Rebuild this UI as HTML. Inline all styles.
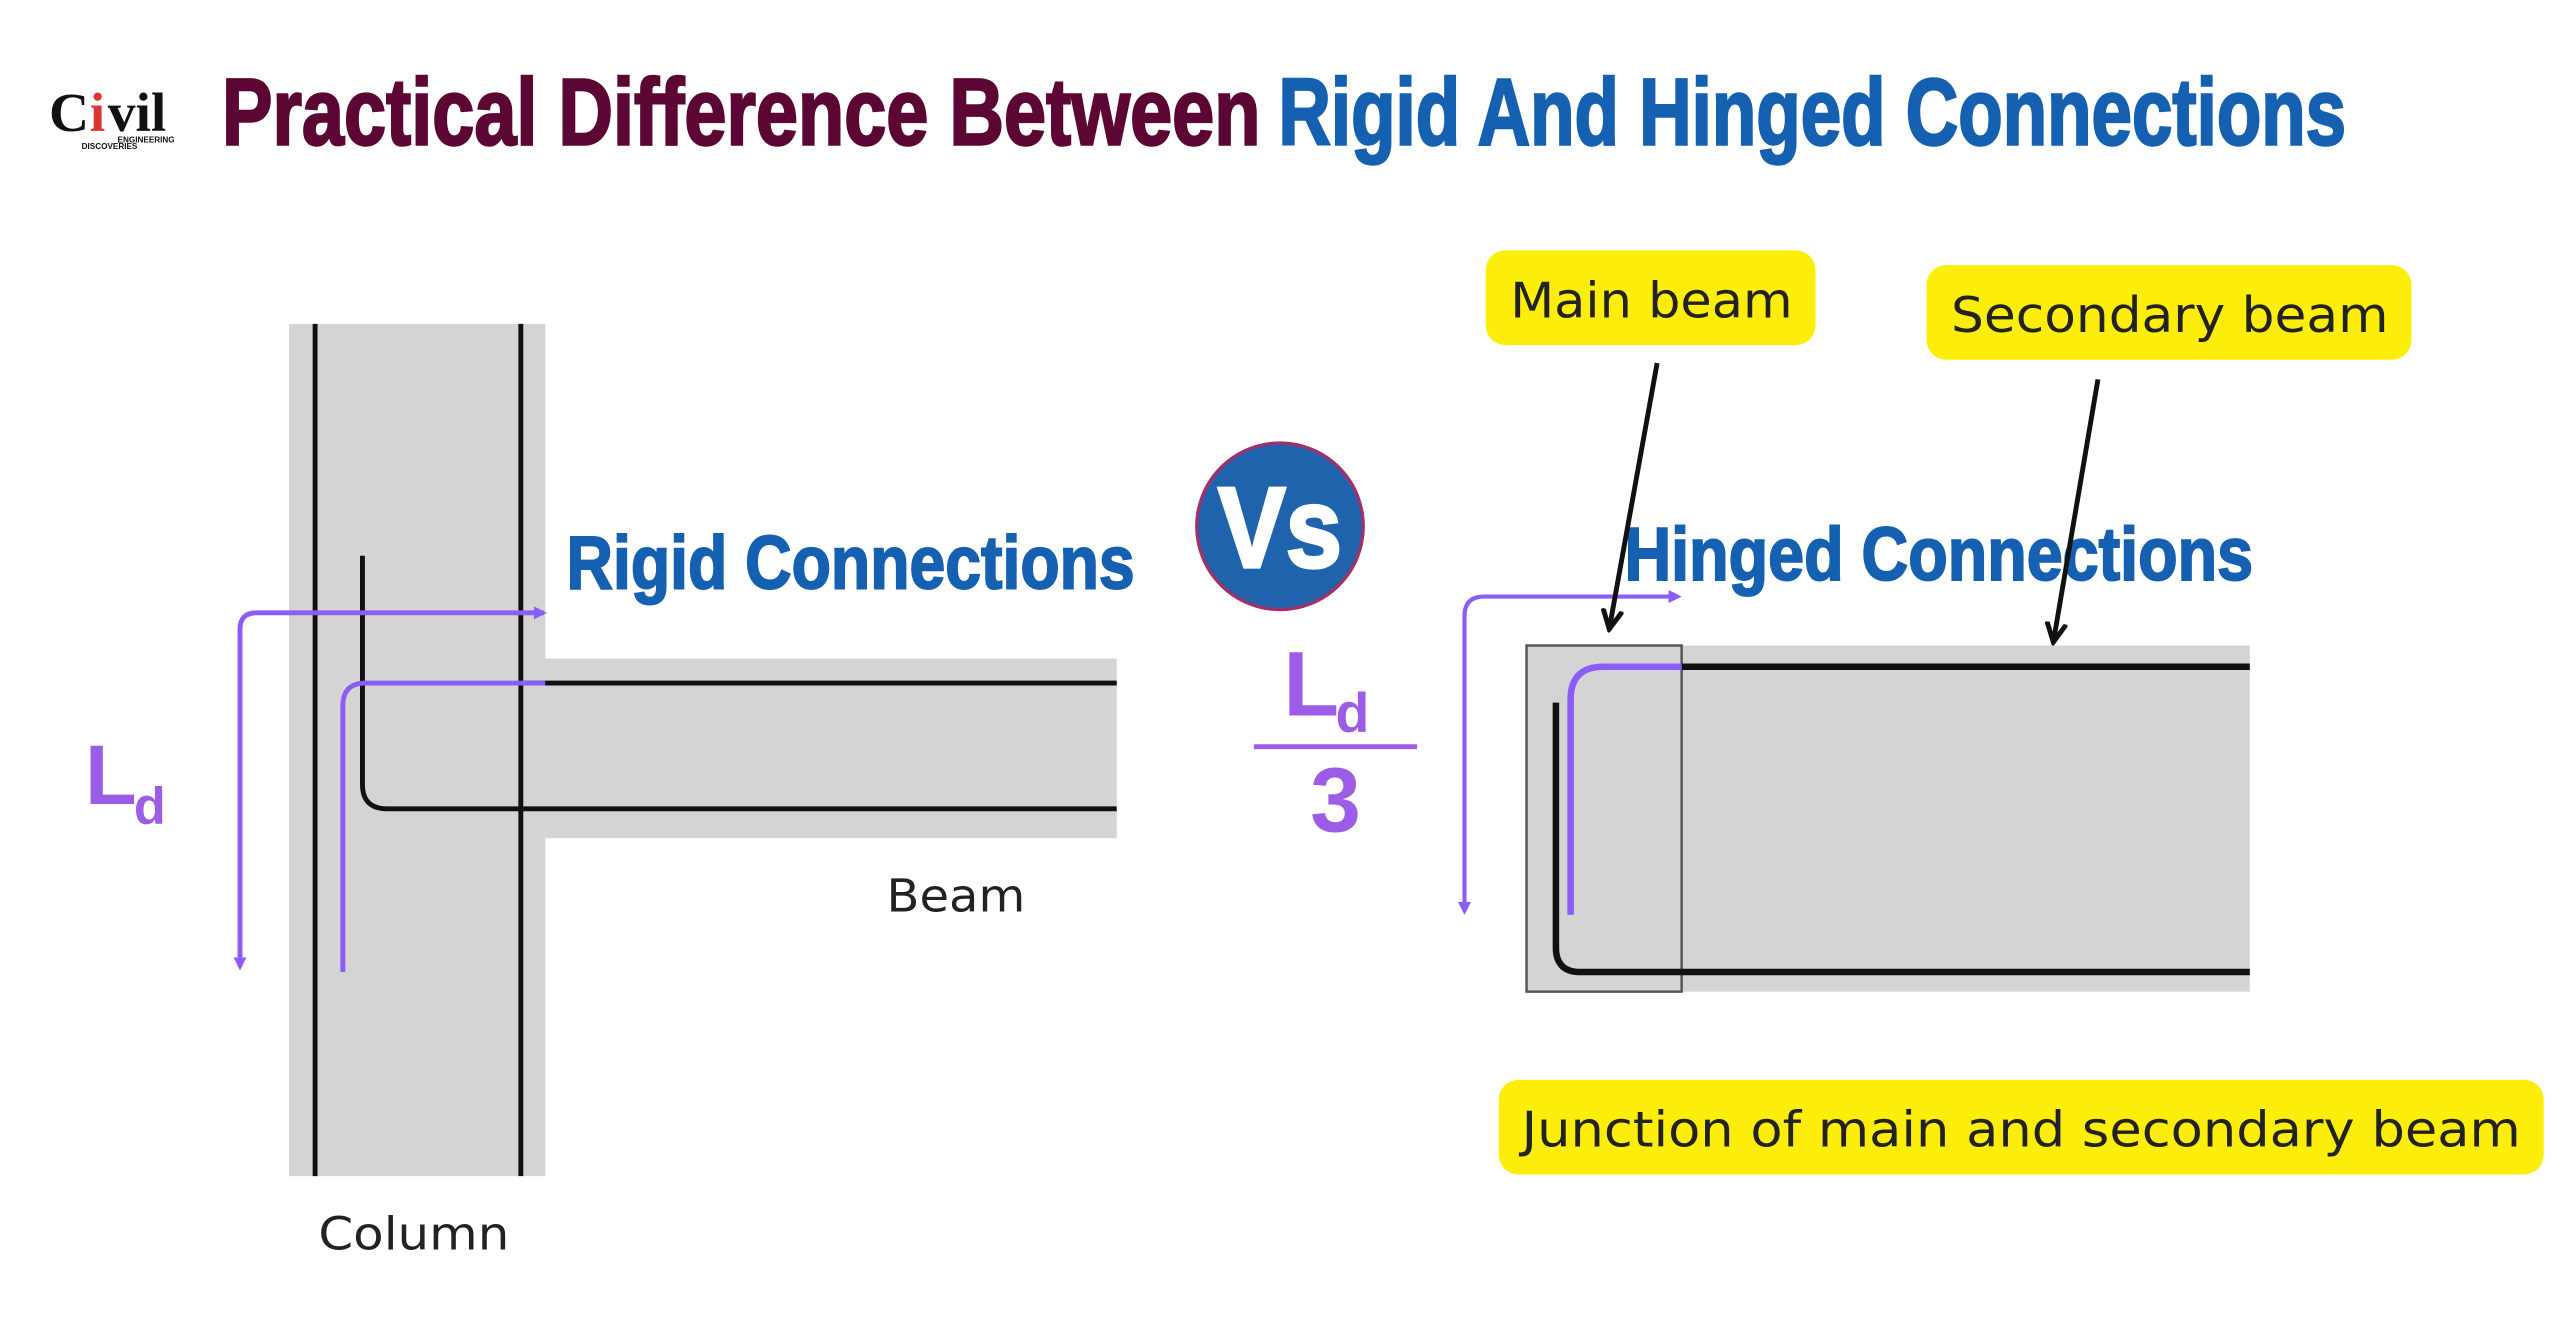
<!DOCTYPE html>
<html><head><meta charset="utf-8"><style>html,body{margin:0;padding:0;background:#fff}svg{display:block}</style></head>
<body>
<svg width="2560" height="1340" viewBox="0 0 1568 820" xmlns="http://www.w3.org/2000/svg">
<defs>
<marker id="pa" markerWidth="8" markerHeight="8" refX="6" refY="4" orient="auto-start-reverse" markerUnits="userSpaceOnUse"><path d="M0,0 L8,4 L0,8 z" fill="#8b5cf6"/></marker>
<marker id="ba" markerWidth="14" markerHeight="14" refX="10" refY="7" orient="auto" markerUnits="userSpaceOnUse"><path d="M0,1 L12,7 L0,13" fill="none" stroke="#111" stroke-width="3"/></marker>
</defs>
<rect width="1568" height="820" fill="#fff"/>
<!-- logo -->
<text x="30" y="80" font-family="Liberation Serif,serif" font-weight="bold" font-size="34" fill="#111">C</text>
<text x="55" y="80" font-family="Liberation Serif,serif" font-weight="bold" font-size="34" fill="#d33">i</text>
<text x="66" y="80" font-family="Liberation Serif,serif" font-weight="bold" font-size="34" fill="#111">vil</text>
<text x="72" y="87" font-family="Liberation Sans,sans-serif" font-weight="bold" font-size="5" fill="#111">ENGINEERING</text>
<text x="50" y="91" font-family="Liberation Sans,sans-serif" font-weight="bold" font-size="5" fill="#111">DISCOVERIES</text>
<!-- title -->
<text x="136" y="88" font-family="Liberation Sans Narrow,Liberation Sans,sans-serif" font-weight="bold" font-size="58" fill="#5c0633" stroke="#5c0633" stroke-width="1.5" textLength="636" lengthAdjust="spacingAndGlyphs">Practical Difference Between</text>
<text x="783" y="88" font-family="Liberation Sans Narrow,Liberation Sans,sans-serif" font-weight="bold" font-size="58" fill="#1560b0" stroke="#1560b0" stroke-width="1.5" textLength="654" lengthAdjust="spacingAndGlyphs">Rigid And Hinged Connections</text>
<!-- left diagram -->
<rect x="177" y="198" width="157" height="522" fill="#d4d4d4"/>
<rect x="334" y="403" width="350" height="110" fill="#d4d4d4"/>
<line x1="193" y1="198" x2="193" y2="720" stroke="#111" stroke-width="3"/>
<line x1="319" y1="198" x2="319" y2="720" stroke="#111" stroke-width="3"/>
<line x1="319" y1="418" x2="684" y2="418" stroke="#111" stroke-width="3"/>
<path d="M222,340 L222,480 Q222,495 237,495 L684,495" fill="none" stroke="#111" stroke-width="3"/>
<path d="M147,592 L147,385 Q147,375 157,375 L333,375" fill="none" stroke="#8b5cf6" stroke-width="3" marker-end="url(#pa)" marker-start="url(#pa)"/>
<path d="M210,595 L210,432 Q210,418 224,418 L334,418" fill="none" stroke="#8b5cf6" stroke-width="3"/>
<text x="52" y="492" font-family="Liberation Sans,sans-serif" font-weight="bold" font-size="52" fill="#9b5de5">L</text>
<text x="82" y="504" font-family="Liberation Sans,sans-serif" font-weight="bold" font-size="32" fill="#9b5de5">d</text>
<text x="543" y="558" font-family="DejaVu Sans,sans-serif" font-size="28" fill="#222" textLength="85" lengthAdjust="spacingAndGlyphs">Beam</text>
<text x="195" y="765" font-family="DejaVu Sans,sans-serif" font-size="28" fill="#222" textLength="117" lengthAdjust="spacingAndGlyphs">Column</text>
<text x="347" y="360" font-family="Liberation Sans Narrow,Liberation Sans,sans-serif" font-weight="bold" font-size="46" fill="#1560b0" stroke="#1560b0" stroke-width="1.2" textLength="348" lengthAdjust="spacingAndGlyphs">Rigid Connections</text>
<!-- vs -->
<circle cx="784" cy="322" r="51" fill="#1f63ad" stroke="#a0306a" stroke-width="2"/>
<text x="784" y="347" text-anchor="middle" font-family="Liberation Sans Narrow,Liberation Sans,sans-serif" font-weight="bold" font-size="70" fill="#fff" stroke="#fff" stroke-width="2" textLength="76" lengthAdjust="spacingAndGlyphs">Vs</text>
<!-- right diagram -->
<rect x="1030" y="395" width="348" height="212" fill="#d4d4d4"/>
<rect x="935" y="395" width="95" height="212" fill="#d4d4d4" stroke="#555" stroke-width="1.5"/>
<line x1="1030" y1="408" x2="1378" y2="408" stroke="#111" stroke-width="4"/>
<path d="M953,430 L953,580 Q953,595 968,595 L1378,595" fill="none" stroke="#111" stroke-width="4"/>
<path d="M962,560 L962,428 Q962,408 982,408 L1030,408" fill="none" stroke="#8b5cf6" stroke-width="4"/>
<path d="M897,558 L897,377 Q897,365 909,365 L1028,365" fill="none" stroke="#8b5cf6" stroke-width="2.5" marker-end="url(#pa)" marker-start="url(#pa)"/>
<text x="786" y="438" font-family="Liberation Sans,sans-serif" font-weight="bold" font-size="56" fill="#9b5de5">L</text>
<text x="818" y="448" font-family="Liberation Sans,sans-serif" font-weight="bold" font-size="34" fill="#9b5de5">d</text>
<line x1="768" y1="457" x2="868" y2="457" stroke="#9b5de5" stroke-width="3"/>
<text x="818" y="509" text-anchor="middle" font-family="Liberation Sans,sans-serif" font-weight="bold" font-size="56" fill="#9b5de5">3</text>
<text x="995" y="355" font-family="Liberation Sans Narrow,Liberation Sans,sans-serif" font-weight="bold" font-size="46" fill="#1560b0" stroke="#1560b0" stroke-width="1.2" textLength="385" lengthAdjust="spacingAndGlyphs">Hinged Connections</text>
<rect x="910" y="153" width="202" height="58" rx="12" fill="#fcee0a"/>
<text x="925" y="194" font-family="DejaVu Sans,sans-serif" font-size="30" fill="#222" textLength="173" lengthAdjust="spacingAndGlyphs">Main beam</text>
<rect x="1180" y="162" width="297" height="58" rx="12" fill="#fcee0a"/>
<text x="1195" y="203" font-family="DejaVu Sans,sans-serif" font-size="30" fill="#222" textLength="268" lengthAdjust="spacingAndGlyphs">Secondary beam</text>
<rect x="918" y="661" width="640" height="58" rx="12" fill="#fcee0a"/>
<text x="932" y="702" font-family="DejaVu Sans,sans-serif" font-size="30" fill="#222" textLength="612" lengthAdjust="spacingAndGlyphs">Junction of main and secondary beam</text>
<line x1="1015" y1="222" x2="986" y2="383" stroke="#111" stroke-width="3" marker-end="url(#ba)"/>
<line x1="1285" y1="232" x2="1258" y2="391" stroke="#111" stroke-width="3" marker-end="url(#ba)"/>
</svg>
</body></html>
